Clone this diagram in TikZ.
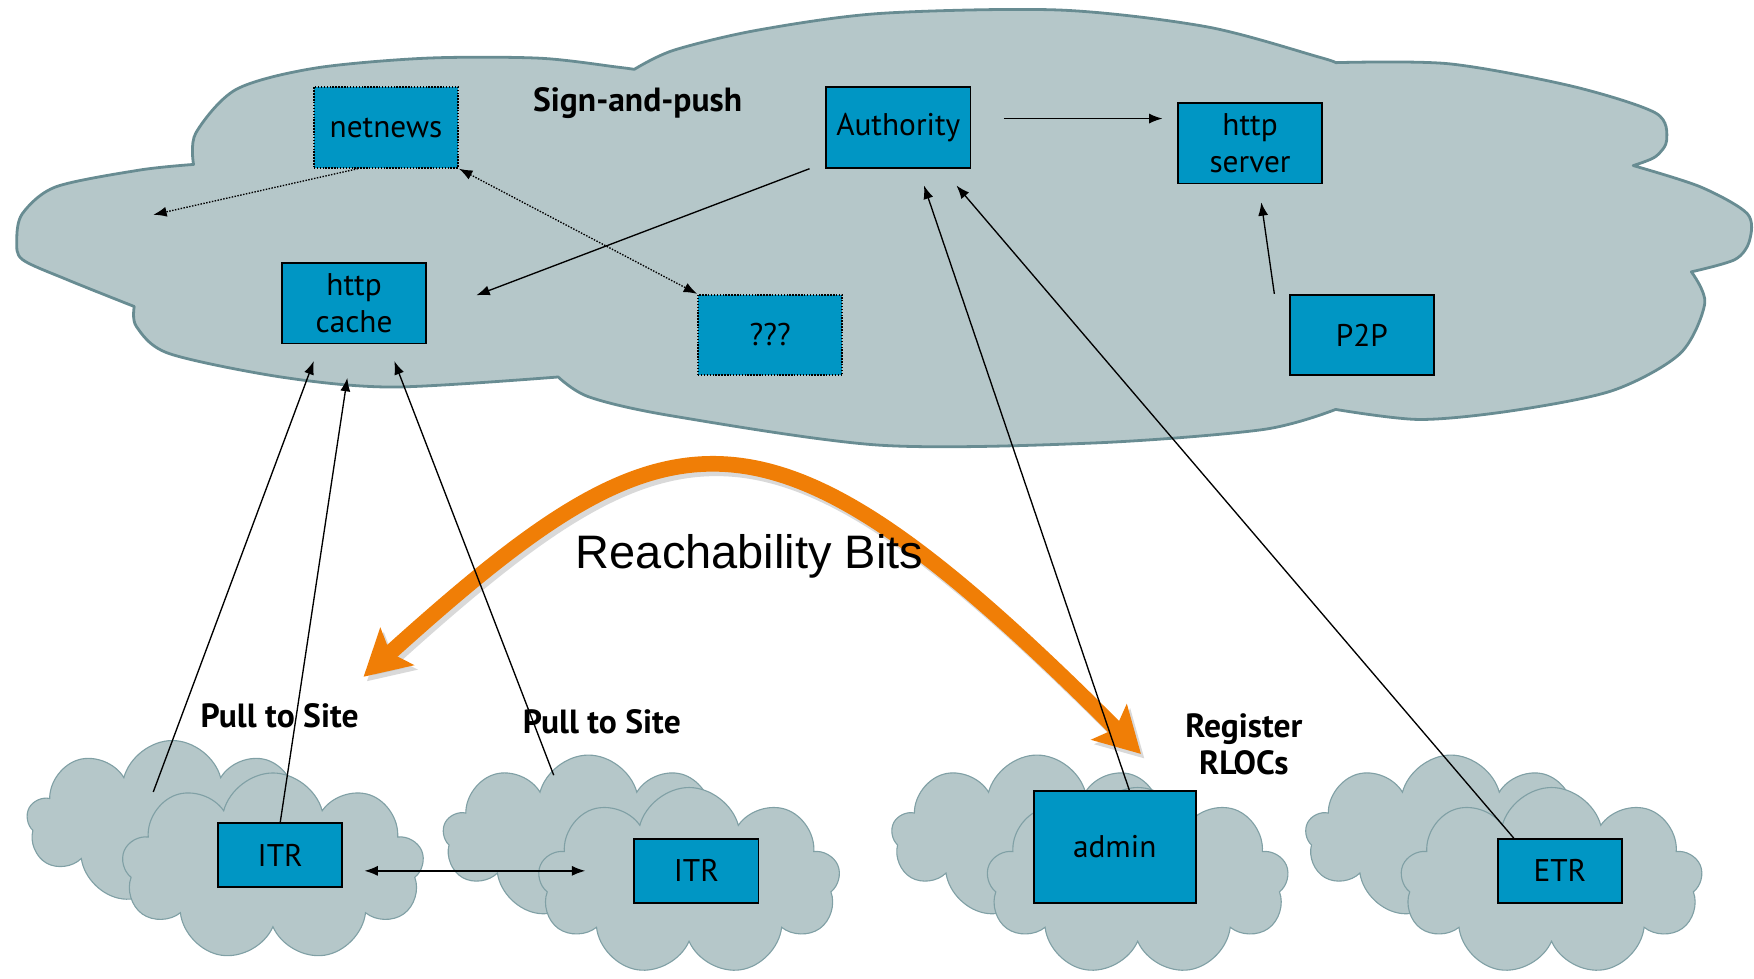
\documentclass[tikz,border=0pt]{standalone}
\usepackage{fontspec}
\setmainfont{PT Sans}
\newfontfamily\helv{Liberation Sans}
\usetikzlibrary{arrows.meta,shapes.symbols}
\definecolor{cloudfill}{RGB}{181,199,201}
\definecolor{cloudline}{RGB}{104,140,146}
\definecolor{siteline}{RGB}{128,160,165}
\definecolor{boxblue}{RGB}{0,150,196}
\definecolor{bitsorange}{RGB}{240,126,6}

\begin{document}
\begin{tikzpicture}[x=1pt,y=-1pt,>={Latex[length=12pt,width=9pt]},
  box/.style={draw,line width=1.6pt,fill=boxblue,minimum width=129pt,minimum height=72pt,inner sep=1pt,align=center,font=\fontsize{28}{33}\selectfont},
  dotbox/.style={box,dash pattern=on 1.3pt off 1.3pt},
  smallbox/.style={box,minimum width=111pt,minimum height=57pt},
  site/.style={cloud,cloud puffs=9,cloud ignores aspect,draw=siteline,fill=cloudfill,line width=1pt,minimum width=#1},
  lbl/.style={font=\bfseries\fontsize{30}{33}\selectfont,align=center},
  link/.style={->,line width=1.2pt},
  dotline/.style={line width=1.2pt,dash pattern=on 1.3pt off 1.3pt},
  bits/.style={line width=14pt,bitsorange,arrows={Stealth[length=40pt,width=44pt,inset=8pt]-Stealth[length=40pt,width=44pt,inset=8pt]}}]
\useasboundingbox (0,0) rectangle (1568,875);
\fill[cloudfill,draw=cloudline,line width=2.5pt,line join=round]
  plot[smooth] coordinates {(173,147) (175,119) (211,80) (281,61) (381,52) (482,52) (552,60) (567,62)}
  -- plot[smooth] coordinates {(567,62) (602,45) (677,27) (787,12) (948,9) (1079,24) (1179,51) (1194,56)}
  -- plot[smooth] coordinates {(1194,56) (1295,57) (1405,77) (1480,101) (1490,125) (1480,140) (1460,148)}
  -- plot[smooth] coordinates {(1460,148) (1520,167) (1562,191) (1564,215) (1551,232) (1512,243)}
  -- plot[smooth] coordinates {(1512,243) (1524,271) (1502,316) (1442,349) (1353,367) (1269,375) (1194,366)}
  -- plot[smooth] coordinates {(1194,366) (1129,384) (978,396) (787,398) (602,372) (527,355) (499,337)}
  -- plot[smooth] coordinates {(499,337) (351,346) (251,337) (151,316) (122,292) (120,274)}
  -- plot[smooth] coordinates {(120,274) (60,250) (20,232) (15,215) (20,191) (50,167) (125,152) (173,147)} -- cycle;
\foreach \l/\y [count=\i] in {24/735,396/748,797/748,1167/748}{
  \node[site=260pt,minimum height=146pt] (back\i) at (\l+130,\y) {};
  \node[site=270pt,minimum height=168pt] (front\i) at (\l+220,\y+40) {};}
\coordinate (bitsL) at (325,605); \coordinate (bitsR) at (1020,674);
\draw[bits,black!25,opacity=.6,transform canvas={shift={(3,4)}}] (bitsL) .. controls (600,357) and (683,337) .. (bitsR);
\draw[bits] (bitsL) .. controls (600,357) and (683,337) .. (bitsR);
\node[dotbox] (netnews) at (345,114) {netnews};
\node[box] (auth) at (803,114) {Authority};
\node[box] (server) at (1117.5,128) {http\\server};
\node[box] (cache) at (316.5,271) {http\\cache};
\node[dotbox] (unknown) at (688.5,299.5) {???};
\node[box] (p2p) at (1217.5,299.5) {P2P};
\node[smallbox] (itr1) at (250.5,764.5) {ITR};
\node[smallbox] (itr2) at (622.5,778.5) {ITR};
\node[box,minimum width=145pt,minimum height=100pt] (admin) at (996.5,757) {admin};
\node[smallbox] (etr) at (1394.5,778.5) {ETR};
\coordinate (newsend) at (137,192); \coordinate (pullA) at (137,708); \coordinate (pullB) at (495,693);
\draw[link,dotline] ([shift={(-25,0)}]netnews.south) -- (newsend);
\draw[<->,dotline] (netnews.south east) -- (unknown.north west);
\draw[link] ([shift={(-14,0)}]auth.south west) -- ([shift={(44,-7)}]cache.east);
\draw[link] ([shift={(29,-8)}]auth.east) -- ([shift={(-13,-22)}]server.west);
\draw[link] ([shift={(-13,0)}]p2p.north west) -- ([shift={(10,16)}]server.south);
\draw[link] (pullA) -- ([shift={(-36,15)}]cache.south);
\draw[link] (itr1.north) -- ([shift={(-6,30)}]cache.south);
\draw[link] (pullB) -- ([shift={(36,15)}]cache.south);
\draw[link] ([shift={(13,0)}]admin.north) -- ([shift={(23,15)}]auth.south);
\draw[link] ([shift={(15,0)}]etr.north west) -- ([shift={(52,15)}]auth.south);
\draw[<->,line width=1.2pt] ([shift={(19,14)}]itr1.east) -- ([shift={(-43,0)}]itr2.west);
\node[lbl] (push) at (570,92) {Sign-and-push};
\node[lbl] (pull1) at (250,640) {Pull to Site};
\node[lbl] (pull2) at (538,645) {Pull to Site};
\node[lbl] (reg) at (1112,665) {Register\\RLOCs};
\node[font=\helv\fontsize{42}{45}\selectfont] (bitslbl) at (670,497) {Reachability Bits};
\end{tikzpicture}
\end{document}
